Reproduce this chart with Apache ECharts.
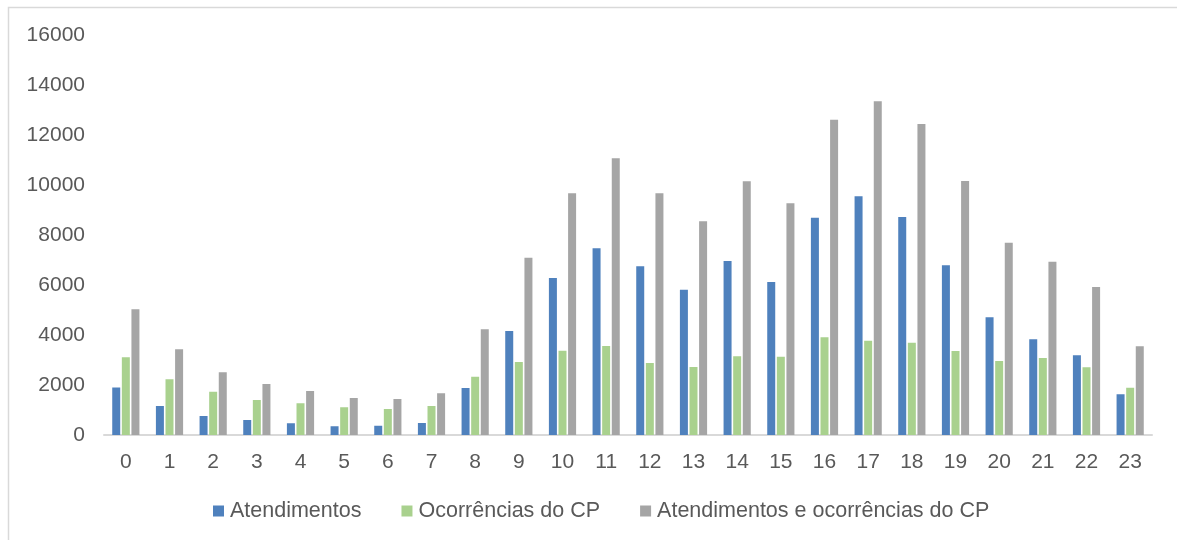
<!DOCTYPE html>
<html>
<head>
<meta charset="utf-8">
<script src="https://cdn.jsdelivr.net/npm/echarts@6/dist/echarts.min.js"></script>
<style>
  html, body { margin: 0; padding: 0; background: #fff; }
  #chart { width: 1177px; height: 540px; }
</style>
</head>
<body>
<div id="chart"></div>
<script>
// Hours of the day
const hours = ['0','1','2','3','4','5','6','7','8','9','10','11','12','13','14','15','16','17','18','19','20','21','22','23'];

// Counts per hour
const atendimentos = [1900, 1160, 760, 600, 470, 350, 370, 480, 1880, 4160, 6280, 7470, 6750, 5810, 6960, 6120, 8690, 9550, 8720, 6790, 4710, 3830, 3190, 1630];
const ocorrencias = [3110, 2230, 1730, 1400, 1270, 1110, 1040, 1160, 2330, 2920, 3370, 3560, 2880, 2720, 3150, 3130, 3910, 3770, 3690, 3360, 2960, 3080, 2710, 1890];
const combinados = [5030, 3430, 2510, 2040, 1760, 1480, 1440, 1670, 4230, 7090, 9670, 11070, 9670, 8550, 10150, 9270, 12610, 13350, 12440, 10160, 7690, 6930, 5920, 3550];

const seriesNames = ['Atendimentos', 'Ocorrências do CP', 'Atendimentos e ocorrências do CP'];
const yTicks = { min: 0, max: 16000, interval: 2000 };

const textColor = '#595959';
const fontFamily = '"Liberation Sans", Arial, sans-serif';

const chart = echarts.init(document.getElementById('chart'), null, { renderer: 'canvas' });

function barSeries(name, data, color) {
  return {
    name: name,
    type: 'bar',
    data: data,
    barWidth: 8,
    barGap: '20%',
    itemStyle: { color: color },
    emphasis: { disabled: true }
  };
}

chart.setOption({
  animation: false,
  backgroundColor: '#ffffff',
  graphic: [{
    type: 'rect',
    shape: { x: 8.5, y: 7.5, width: 1200, height: 600 },
    style: { fill: 'none', stroke: '#D9D9D9', lineWidth: 1.5 },
    silent: true
  }],
  grid: { left: 104, right: 25, top: 35, bottom: 105 },
  legend: {
    data: seriesNames,
    left: 208,
    top: 495,
    itemWidth: 11,
    itemHeight: 11,
    itemGap: 40,
    icon: 'rect',
    textStyle: { color: textColor, fontSize: 21.5, fontFamily: fontFamily, padding: [0, 0, 0, 1] }
  },
  xAxis: {
    type: 'category',
    data: hours,
    axisLine: { lineStyle: { color: '#D9D9D9', width: 2 } },
    axisTick: { show: false },
    axisLabel: { color: textColor, fontSize: 21, fontFamily: fontFamily, margin: 17 }
  },
  yAxis: {
    type: 'value',
    min: yTicks.min,
    max: yTicks.max,
    interval: yTicks.interval,
    splitLine: { show: false },
    axisLine: { show: false },
    axisTick: { show: false },
    axisLabel: {
      color: textColor, fontSize: 21, fontFamily: fontFamily, margin: 19,
      formatter: function (v) { return String(v); }
    }
  },
  series: [
    barSeries(seriesNames[0], atendimentos, '#4F81BD'),
    barSeries(seriesNames[1], ocorrencias, '#A9D18E'),
    barSeries(seriesNames[2], combinados, '#A5A5A5')
  ]
});
</script>
</body>
</html>
